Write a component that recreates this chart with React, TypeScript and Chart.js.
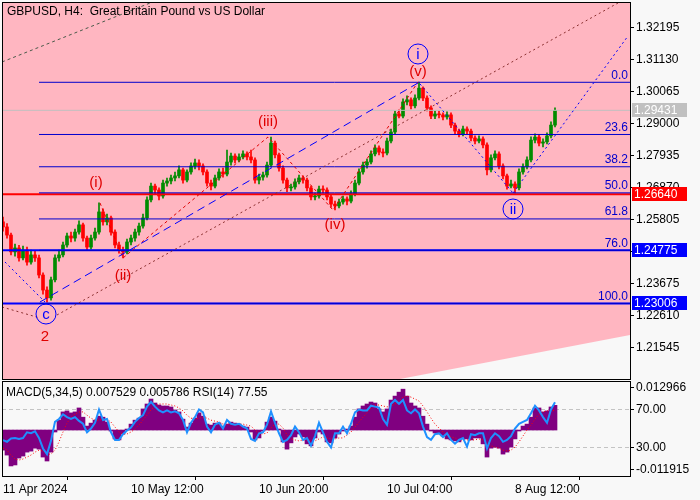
import React, { useEffect, useRef } from 'react';
import { Chart, registerables } from 'chart.js';

Chart.register(...registerables);

const FONT = "'Liberation Sans', Arial, sans-serif";
const PINK = '#ffb6c1';
const PAGE_BG = '#f8f8f8';
const BULL = '#008c00';
const BEAR = '#ff0000';
const FIB_BLUE = '#0000cd';

const TITLE = 'GBPUSD, H4:  Great Britain Pound vs US Dollar';
const INDICATOR_TEXT = 'MACD(5,34,5) 0.007529 0.005786 RSI(14) 77.55';

const firstOpen = 1.2572;
const closes = [
  1.2555, 1.2528, 1.2472, 1.2485, 1.2452, 1.2478, 1.2438, 1.2462, 1.2452, 1.2395,
  1.2345, 1.2319, 1.2379, 1.2452, 1.2462, 1.2495, 1.2525, 1.2518, 1.2538, 1.2562,
  1.2518, 1.2488, 1.2518, 1.2538, 1.2605, 1.2572, 1.2585, 1.2538, 1.2495, 1.2478,
  1.2472, 1.2505, 1.2518, 1.2538, 1.2558, 1.2585, 1.2645, 1.2691, 1.2678, 1.2658,
  1.2701, 1.2708, 1.2718, 1.2725, 1.2745, 1.2711, 1.2738, 1.2758, 1.2768, 1.2758,
  1.2738, 1.2701, 1.2691, 1.2718, 1.2738, 1.2731, 1.2771, 1.2791, 1.2778, 1.2788,
  1.2798, 1.2788, 1.2778, 1.2711, 1.2721, 1.2728, 1.2761, 1.2834, 1.2795, 1.2751,
  1.2711, 1.2685, 1.2688, 1.2705, 1.2718, 1.2711, 1.2685, 1.2655, 1.2658, 1.2681,
  1.2678, 1.2655, 1.2631, 1.2625, 1.2638, 1.2648, 1.2641, 1.2665, 1.2701, 1.2738,
  1.2761, 1.2771, 1.2798, 1.2818, 1.2804, 1.2801, 1.2841, 1.2871, 1.2931, 1.2924,
  1.2971, 1.2978, 1.2958, 1.2984, 1.3017, 1.2984, 1.2951, 1.2924, 1.2931, 1.2928,
  1.2921, 1.2928, 1.2894, 1.2874, 1.2864, 1.2881, 1.2874, 1.2851, 1.2841, 1.2848,
  1.2828, 1.2745, 1.2785, 1.2798, 1.2758, 1.2725, 1.2691, 1.2698, 1.2685, 1.2738,
  1.2755, 1.2778, 1.2844, 1.2854, 1.2834, 1.2838, 1.2858, 1.2894, 1.2943,
];
const highs = [
  1.2588, 1.2566, 1.2535, 1.2498, 1.2494, 1.2491, 1.2488, 1.2478, 1.2475, 1.2461,
  1.2402, 1.2356, 1.2388, 1.2462, 1.2478, 1.2505, 1.2535, 1.2538, 1.2548, 1.2575,
  1.2568, 1.2525, 1.2528, 1.2551, 1.2635, 1.2615, 1.2598, 1.2591, 1.2545, 1.2505,
  1.2488, 1.2515, 1.2528, 1.2548, 1.2568, 1.2598, 1.2655, 1.2701, 1.2698, 1.2685,
  1.2711, 1.2718, 1.2728, 1.2738, 1.2758, 1.2751, 1.2745, 1.2768, 1.2781, 1.2778,
  1.2765, 1.2745, 1.2711, 1.2728, 1.2748, 1.2751, 1.2811, 1.2801, 1.2798, 1.2798,
  1.2808, 1.2805, 1.2811, 1.2785, 1.2731, 1.2738, 1.2771, 1.2854, 1.2841, 1.2801,
  1.2758, 1.2718, 1.2698, 1.2715, 1.2728, 1.2725, 1.2718, 1.2691, 1.2668, 1.2691,
  1.2692, 1.2685, 1.2661, 1.2641, 1.2648, 1.2658, 1.2655, 1.2675, 1.2711, 1.2748,
  1.2771, 1.2781, 1.2808, 1.2828, 1.2825, 1.2815, 1.2851, 1.2881, 1.2941, 1.2945,
  1.2981, 1.2991, 1.2985, 1.2995, 1.3037, 1.3021, 1.2991, 1.2958, 1.2941, 1.2941,
  1.2935, 1.2938, 1.2935, 1.2901, 1.2881, 1.2891, 1.2888, 1.2881, 1.2858, 1.2858,
  1.2855, 1.2835, 1.2795, 1.2808, 1.2805, 1.2765, 1.2731, 1.2711, 1.2705, 1.2748,
  1.2765, 1.2788, 1.2855, 1.2865, 1.2861, 1.2848, 1.2868, 1.2905, 1.2951,
];
const lows = [
  1.2541, 1.2518, 1.2462, 1.2458, 1.2441, 1.2445, 1.2428, 1.2431, 1.2440, 1.2385,
  1.2331, 1.2305, 1.2311, 1.2372, 1.2441, 1.2455, 1.2488, 1.2505, 1.2508, 1.2531,
  1.2508, 1.2478, 1.2481, 1.2511, 1.2531, 1.2561, 1.2562, 1.2528, 1.2485, 1.2468,
  1.2452, 1.2465, 1.2495, 1.2508, 1.2528, 1.2551, 1.2578, 1.2638, 1.2665, 1.2645,
  1.2651, 1.2691, 1.2698, 1.2708, 1.2718, 1.2701, 1.2705, 1.2731, 1.2748, 1.2745,
  1.2728, 1.2691, 1.2678, 1.2685, 1.2711, 1.2721, 1.2725, 1.2761, 1.2768, 1.2771,
  1.2781, 1.2778, 1.2768, 1.2701, 1.2698, 1.2711, 1.2721, 1.2755, 1.2785, 1.2741,
  1.2701, 1.2672, 1.2675, 1.2681, 1.2698, 1.2701, 1.2675, 1.2645, 1.2645, 1.2651,
  1.2668, 1.2645, 1.2621, 1.2612, 1.2618, 1.2631, 1.2628, 1.2635, 1.2658, 1.2695,
  1.2731, 1.2751, 1.2765, 1.2791, 1.2795, 1.2788, 1.2795, 1.2835, 1.2865, 1.2918,
  1.2918, 1.2961, 1.2948, 1.2951, 1.2978, 1.2975, 1.2941, 1.2915, 1.2915, 1.2918,
  1.2911, 1.2914, 1.2885, 1.2865, 1.2855, 1.2858, 1.2865, 1.2841, 1.2831, 1.2835,
  1.2818, 1.2728, 1.2738, 1.2778, 1.2748, 1.2715, 1.2681, 1.2685, 1.2668, 1.2678,
  1.2731, 1.2748, 1.2771, 1.2835, 1.2825, 1.2821, 1.2831, 1.2851, 1.2888,
];
const macdHist = [
  -0.0061, -0.0076, -0.0109, -0.0106, -0.0085, -0.0079, -0.0067, -0.0064, -0.0055, -0.0058,
  -0.0082, -0.0094, -0.0067, -0.0006, 0.0030, 0.0055, 0.0058, 0.0052, 0.0055, 0.0067,
  0.0039, 0.0012, 0.0021, 0.0030, 0.0042, 0.0039, 0.0024, -0.0003, -0.0027, -0.0030,
  -0.0012, 0.0003, 0.0018, 0.0030, 0.0036, 0.0064, 0.0079, 0.0094, 0.0082, 0.0076,
  0.0073, 0.0073, 0.0070, 0.0061, 0.0055, 0.0033, 0.0009, 0.0021, 0.0036, 0.0052,
  0.0042, 0.0018, 0.0015, 0.0021, 0.0021, 0.0012, 0.0018, 0.0024, 0.0021, 0.0018,
  0.0012, 0.0009, -0.0006, -0.0030, -0.0024, -0.0003, 0.0024, 0.0039, 0.0027, 0.0003,
  -0.0036, -0.0058, -0.0039, -0.0021, -0.0012, -0.0021, -0.0042, -0.0048, -0.0024, -0.0006,
  -0.0012, -0.0036, -0.0039, -0.0024, -0.0012, -0.0003, 0.0003, 0.0012, 0.0039, 0.0064,
  0.0073, 0.0079, 0.0085, 0.0082, 0.0064, 0.0055, 0.0064, 0.0091, 0.0103, 0.0115,
  0.0124, 0.0103, 0.0082, 0.0073, 0.0067, 0.0042, 0.0018, -0.0003, -0.0009, -0.0012,
  -0.0018, -0.0027, -0.0030, -0.0033, -0.0036, -0.0027, -0.0027, -0.0030, -0.0024, -0.0024,
  -0.0042, -0.0082, -0.0055, -0.0052, -0.0055, -0.0073, -0.0067, -0.0052, -0.0027, -0.0003,
  0.0012, 0.0018, 0.0039, 0.0067, 0.0067, 0.0055, 0.0058, 0.0070, 0.0075,
];
const macdSignal = [
  -0.0055, -0.0061, -0.0076, -0.0088, -0.0091, -0.0088, -0.0082, -0.0076, -0.0067, -0.0061,
  -0.0064, -0.0073, -0.0073, -0.0061, -0.0036, -0.0006, 0.0021, 0.0039, 0.0048, 0.0055,
  0.0055, 0.0045, 0.0036, 0.0030, 0.0030, 0.0033, 0.0033, 0.0024, 0.0009, -0.0006,
  -0.0012, -0.0012, -0.0006, 0.0003, 0.0015, 0.0030, 0.0045, 0.0061, 0.0073, 0.0079,
  0.0079, 0.0079, 0.0076, 0.0073, 0.0067, 0.0058, 0.0045, 0.0036, 0.0033, 0.0036,
  0.0039, 0.0036, 0.0030, 0.0027, 0.0024, 0.0018, 0.0018, 0.0018, 0.0018, 0.0018,
  0.0018, 0.0015, 0.0012, 0.0000, -0.0009, -0.0012, -0.0009, 0.0006, 0.0018, 0.0018,
  0.0006, -0.0015, -0.0027, -0.0030, -0.0033, -0.0030, -0.0030, -0.0033, -0.0033, -0.0027,
  -0.0021, -0.0024, -0.0027, -0.0027, -0.0024, -0.0024, -0.0015, -0.0006, 0.0009, 0.0024,
  0.0039, 0.0052, 0.0067, 0.0076, 0.0076, 0.0073, 0.0070, 0.0073, 0.0079, 0.0088,
  0.0100, 0.0103, 0.0100, 0.0094, 0.0088, 0.0073, 0.0055, 0.0036, 0.0018, 0.0006,
  -0.0006, -0.0015, -0.0021, -0.0024, -0.0030, -0.0030, -0.0030, -0.0030, -0.0030, -0.0027,
  -0.0030, -0.0042, -0.0048, -0.0052, -0.0055, -0.0061, -0.0064, -0.0061, -0.0052, -0.0036,
  -0.0018, 0.0000, 0.0015, 0.0033, 0.0048, 0.0055, 0.0058, 0.0061, 0.0058,
];
const rsiValues = [
  37.7, 36, 39.5, 40, 39, 40, 46, 45, 47, 40,
  29, 23, 37, 57, 60, 65, 62, 60, 62, 58,
  55, 46, 50, 56, 70, 59, 60, 46, 38, 38,
  44, 48, 51, 57, 61, 64, 73, 78, 73, 69,
  67, 69, 67, 68, 66, 59, 46, 56, 62, 70,
  67, 52, 46, 54, 56, 50, 59, 55, 54, 55,
  52, 50, 39, 37, 45, 46, 54, 68, 56, 45,
  36, 38, 43, 52, 46, 38, 40, 32, 42, 56,
  46, 36, 30, 45, 45, 52, 45, 55, 67, 70,
  69, 69, 74, 73, 72, 60, 54, 76, 80, 76,
  80, 69, 66, 70, 66, 52, 41, 38, 44, 45,
  41, 45, 38, 34, 38, 40, 31, 44, 43, 45,
  45, 29, 40, 45, 42, 36, 38, 42, 50, 55,
  57, 59, 66, 74, 69, 62, 56, 70, 77.55,
];

const priceTicks = [1.21545, 1.2261, 1.23675, 1.2474, 1.25805, 1.2687, 1.27935, 1.29, 1.30065, 1.3113, 1.32195];
const dateTickIndex = [0, 32, 64, 96, 128];
const dateTickLabels = ['11 Apr 2024', '10 May 12:00', '10 Jun 20:00', '10 Jul 04:00', '8 Aug 12:00'];
const macdTicks = [0.012966, -0.011915];
const rsiTicks = [70, 30];

const fibHigh = 1.30364;
const fibLow = 1.23006;
const fibLevels = [0, 23.6, 38.2, 50, 61.8, 76, 100];
const fibStart = 9;

const lastPrice = 1.29431;
const redLevel = 1.2664;
const blueLevels = [1.24775, 1.23006];

const xMin = -0.25;
const xMax = 156.75;
const priceMin = 1.2049;
const priceMax = 1.33036;
const macdMin = -0.013948;
const macdMax = 0.014878;

const upperChannel = [[-0.25, 1.3104], [37.4, 1.33036]];
const lowerChannel = [[13.5, 1.2262], [153.75, 1.33003]];
const baseChannel = [[9.25, 1.23053], [103.75, 1.30341]];
const waveDrop = [[104.25, 1.30308], [127.5, 1.2668]];
const waveRise = [[127.5, 1.2668], [156.25, 1.31905]];
const leftBlue = [[0.5, 1.24384], [10.5, 1.23053]];
const leftRed = [[-0.25, 1.22886], [9.25, 1.2252]];
const subWaves = [[24.25, 1.26347], [30, 1.24517], [66.25, 1.28544], [82.5, 1.26114], [103.75, 1.30374]];
const shadeEdge = [[99.25, 1.2049], [156.75, 1.21954]];

const redWaveLabels: [string, number, number][] = [
  ['(i)', 23.25, 1.27013],
  ['(ii)', 30, 1.23918],
  ['(iii)', 66.25, 1.29043],
  ['(iv)', 83, 1.25615],
  ['(v)', 103.75, 1.30707],
  ['2', 10.5, 1.21888],
];
const circledLabels: [string, number, number][] = [
  ['i', 103.75, 1.31306],
  ['ii', 127.5, 1.26147],
  ['c', 10.75, 1.22653],
];

const opens = closes.map((c, i) => (i === 0 ? firstOpen : closes[i - 1]));
const candleColors = closes.map((c, i) => (c >= opens[i] ? BULL : BEAR));

function lineSet(points: number[][], color: string, width: number, dash: number[], order: number) {
  return {
    type: 'line',
    data: points.map(([x, y]) => ({ x, y })),
    borderColor: color,
    borderWidth: width,
    borderDash: dash,
    pointRadius: 0,
    fill: false,
    tension: 0,
    order,
  };
}

const mainPlugin = {
  id: 'mainDeco',
  beforeDraw(chart: any) {
    const { ctx, chartArea: a } = chart;
    ctx.save();
    ctx.fillStyle = PINK;
    ctx.fillRect(a.left, a.top, a.right - a.left, a.bottom - a.top);
    ctx.restore();
  },
  afterDatasetsDraw(chart: any) {
    const { ctx, chartArea: a } = chart;
    const xs = chart.scales.x;
    const ys = chart.scales.y;
    ctx.save();
    ctx.font = `12px ${FONT}`;
    ctx.fillStyle = FIB_BLUE;
    ctx.textAlign = 'right';
    ctx.textBaseline = 'bottom';
    fibLevels.forEach((lv) => {
      const p = fibHigh - (lv / 100) * (fibHigh - fibLow);
      ctx.fillText(lv.toFixed(1), a.right - 2, ys.getPixelForValue(p) - 1);
    });
    ctx.font = `15px ${FONT}`;
    ctx.textAlign = 'center';
    ctx.textBaseline = 'middle';
    ctx.fillStyle = '#e00000';
    redWaveLabels.forEach(([t, x, y]) => {
      ctx.fillText(t, xs.getPixelForValue(x), ys.getPixelForValue(y));
    });
    circledLabels.forEach(([t, x, y]) => {
      const px = xs.getPixelForValue(x);
      const py = ys.getPixelForValue(y);
      ctx.beginPath();
      ctx.strokeStyle = '#0000ff';
      ctx.lineWidth = 1;
      ctx.arc(px, py, 10, 0, Math.PI * 2);
      ctx.stroke();
      ctx.fillStyle = '#0000ff';
      ctx.fillText(t, px, py + 1);
    });
    ctx.restore();
  },
  afterDraw(chart: any) {
    const { ctx, chartArea: a } = chart;
    const ys = chart.scales.y;
    ctx.save();
    ctx.strokeStyle = '#000';
    ctx.lineWidth = 1;
    ctx.strokeRect(a.left + 0.5, a.top + 0.5, a.right - a.left, a.bottom - a.top);
    ctx.font = `12px ${FONT}`;
    ctx.fillStyle = '#000';
    ctx.textAlign = 'left';
    ctx.textBaseline = 'middle';
    ctx.fillText(TITLE, a.left + 5, a.top + 10);
    const boxes: [number, string][] = [
      [lastPrice, '#c0c0c0'],
      [redLevel, '#ff0000'],
      [blueLevels[0], '#0000ff'],
      [blueLevels[1], '#0000ff'],
    ];
    boxes.forEach(([v, bg]) => {
      const py = Math.round(ys.getPixelForValue(v));
      ctx.fillStyle = bg;
      ctx.fillRect(a.right + 2, py - 7, 55, 14);
      ctx.fillStyle = '#fff';
      ctx.fillText(v.toFixed(5), a.right + 4, py + 0.5);
    });
    ctx.restore();
  },
};

const subPlugin = {
  id: 'subDeco',
  afterDraw(chart: any) {
    const { ctx, chartArea: a } = chart;
    const ms = chart.scales.macd;
    ctx.save();
    ctx.strokeStyle = '#000';
    ctx.lineWidth = 1;
    ctx.strokeRect(a.left + 0.5, a.top + 0.5, a.right - a.left, a.bottom - a.top);
    ctx.font = `12px ${FONT}`;
    ctx.fillStyle = '#000';
    ctx.textAlign = 'left';
    ctx.textBaseline = 'middle';
    ctx.fillText(INDICATOR_TEXT, a.left + 4, a.top + 12);
    macdTicks.forEach((v) => {
      const py = Math.round(ms.getPixelForValue(v));
      ctx.beginPath();
      ctx.moveTo(a.right, py + 0.5);
      ctx.lineTo(a.right + 4, py + 0.5);
      ctx.stroke();
      ctx.fillText(v.toFixed(6), a.right + 6, py + 0.5);
    });
    ctx.restore();
  },
};

function mainConfig(): any {
  const idx = closes.map((_, i) => i);
  const fibSets = fibLevels.map((lv) => {
    const p = fibHigh - (lv / 100) * (fibHigh - fibLow);
    return lineSet([[fibStart, p], [xMax, p]], FIB_BLUE, 1, [], 2);
  });
  const datasets: any[] = [
    {
      type: 'line',
      data: shadeEdge.map(([x, y]) => ({ x, y })),
      borderWidth: 0,
      borderColor: PAGE_BG,
      backgroundColor: PAGE_BG,
      pointRadius: 0,
      fill: 'start',
      tension: 0,
      order: 20,
    },
    {
      type: 'bar',
      data: idx.map((i) => ({ x: i, y: [lows[i], highs[i]] })),
      backgroundColor: candleColors,
      barThickness: 1,
      grouped: false,
      order: 11,
    },
    {
      type: 'bar',
      data: idx.map((i) => ({ x: i, y: [opens[i], closes[i]] })),
      backgroundColor: candleColors,
      barThickness: 3,
      minBarLength: 1,
      grouped: false,
      order: 10,
    },
    lineSet([[xMin, lastPrice], [xMax, lastPrice]], '#c0c0c0', 1, [], 9),
    ...fibSets,
    lineSet([[xMin, redLevel], [xMax, redLevel]], '#ff0000', 2, [], 3),
    lineSet([[xMin, blueLevels[0]], [xMax, blueLevels[0]]], '#0000ff', 2, [], 3),
    lineSet([[xMin, blueLevels[1]], [xMax, blueLevels[1]]], '#0000ff', 2, [], 3),
    lineSet(upperChannel, '#4a5a4a', 1, [3, 3], 1),
    lineSet(lowerChannel, '#8b3030', 1, [2, 3], 1),
    lineSet(baseChannel, '#0000ff', 1, [8, 5], 1),
    lineSet(waveDrop, '#0000ff', 1, [2, 3], 1),
    lineSet(waveRise, '#0000ff', 1, [2, 3], 1),
    lineSet(leftBlue, '#0000ff', 1, [2, 3], 1),
    lineSet(leftRed, '#8b3030', 1, [2, 3], 1),
    lineSet(subWaves, '#e00000', 1, [3, 3], 1),
  ];
  return {
    type: 'bar',
    data: { datasets },
    plugins: [mainPlugin],
    options: {
      animation: false,
      responsive: false,
      maintainAspectRatio: false,
      devicePixelRatio: 1,
      layout: { padding: { left: 2, top: 2, right: 0, bottom: 1 } },
      plugins: { legend: { display: false }, tooltip: { enabled: false } },
      events: [],
      scales: {
        x: { type: 'linear', min: xMin, max: xMax, display: false, offset: false },
        y: {
          type: 'linear',
          position: 'right',
          min: priceMin,
          max: priceMax,
          afterBuildTicks: (s: any) => {
            s.ticks = priceTicks.map((v) => ({ value: v }));
          },
          afterFit: (s: any) => {
            s.width = 70;
            s.paddingTop = 0;
            s.paddingBottom = 0;
          },
          ticks: {
            callback: (v: any) => Number(v).toFixed(5),
            font: { family: FONT, size: 12 },
            color: '#000',
            padding: 2,
            autoSkip: false,
          },
          grid: { drawOnChartArea: false, drawTicks: true, tickLength: 4, tickColor: '#000' },
          border: { display: false },
        },
      },
    },
  };
}

function subConfig(): any {
  const idx = closes.map((_, i) => i);
  return {
    type: 'bar',
    data: {
      datasets: [
        {
          type: 'line',
          data: idx.map((i) => ({ x: i, y: rsiValues[i] })),
          yAxisID: 'rsi',
          borderColor: '#1e90ff',
          borderWidth: 2,
          pointRadius: 0,
          tension: 0,
          fill: false,
          order: 1,
        },
        {
          type: 'line',
          data: idx.map((i) => ({ x: i, y: macdSignal[i] })),
          yAxisID: 'macd',
          borderColor: '#ff0000',
          borderWidth: 1,
          borderDash: [1, 2],
          pointRadius: 0,
          tension: 0,
          fill: false,
          order: 2,
        },
        {
          type: 'bar',
          data: idx.map((i) => ({ x: i, y: macdHist[i] })),
          yAxisID: 'macd',
          backgroundColor: '#800080',
          barThickness: 4,
          grouped: false,
          order: 3,
        },
      ],
    },
    plugins: [subPlugin],
    options: {
      animation: false,
      responsive: false,
      maintainAspectRatio: false,
      devicePixelRatio: 1,
      layout: { padding: { left: 2, top: 1, right: 0, bottom: 0 } },
      plugins: { legend: { display: false }, tooltip: { enabled: false } },
      events: [],
      scales: {
        x: {
          type: 'linear',
          position: 'bottom',
          min: xMin,
          max: xMax,
          offset: false,
          afterBuildTicks: (s: any) => {
            s.ticks = dateTickIndex.map((v) => ({ value: v }));
          },
          afterFit: (s: any) => {
            s.height = 24;
            s.paddingLeft = 0;
            s.paddingRight = 0;
          },
          ticks: {
            callback: (v: any, i: number) => dateTickLabels[i] ?? '',
            align: 'start',
            autoSkip: false,
            maxRotation: 0,
            minRotation: 0,
            font: { family: FONT, size: 12 },
            color: '#000',
            padding: 2,
          },
          grid: { drawOnChartArea: false, drawTicks: true, tickLength: 4, tickColor: '#000' },
          border: { display: false },
        },
        macd: {
          type: 'linear',
          position: 'right',
          display: false,
          min: macdMin,
          max: macdMax,
        },
        rsi: {
          type: 'linear',
          position: 'right',
          min: 0,
          max: 100,
          afterBuildTicks: (s: any) => {
            s.ticks = rsiTicks.map((v) => ({ value: v }));
          },
          afterFit: (s: any) => {
            s.width = 70;
            s.paddingTop = 0;
            s.paddingBottom = 0;
          },
          ticks: {
            callback: (v: any) => Number(v).toFixed(2),
            font: { family: FONT, size: 12 },
            color: '#000',
            padding: 2,
            autoSkip: false,
          },
          grid: {
            drawOnChartArea: true,
            drawTicks: true,
            tickLength: 4,
            tickColor: '#000',
            color: '#c4c4c4',
            tickBorderDash: [],
          },
          border: { display: false, dash: [4, 3] },
        },
      },
    },
  };
}

export default function App() {
  const mainRef = useRef<HTMLCanvasElement>(null);
  const subRef = useRef<HTMLCanvasElement>(null);
  useEffect(() => {
    const main = new Chart(mainRef.current as HTMLCanvasElement, mainConfig());
    const sub = new Chart(subRef.current as HTMLCanvasElement, subConfig());
    return () => {
      main.destroy();
      sub.destroy();
    };
  }, []);
  return (
    <div
      style={{
        position: 'fixed',
        left: 0,
        top: 0,
        width: 700,
        height: 500,
        background: PAGE_BG,
        overflow: 'hidden',
      }}
    >
      <canvas ref={mainRef} width={700} height={380} style={{ position: 'absolute', left: 0, top: 0 }} />
      <canvas ref={subRef} width={700} height={120} style={{ position: 'absolute', left: 0, top: 380 }} />
    </div>
  );
}
